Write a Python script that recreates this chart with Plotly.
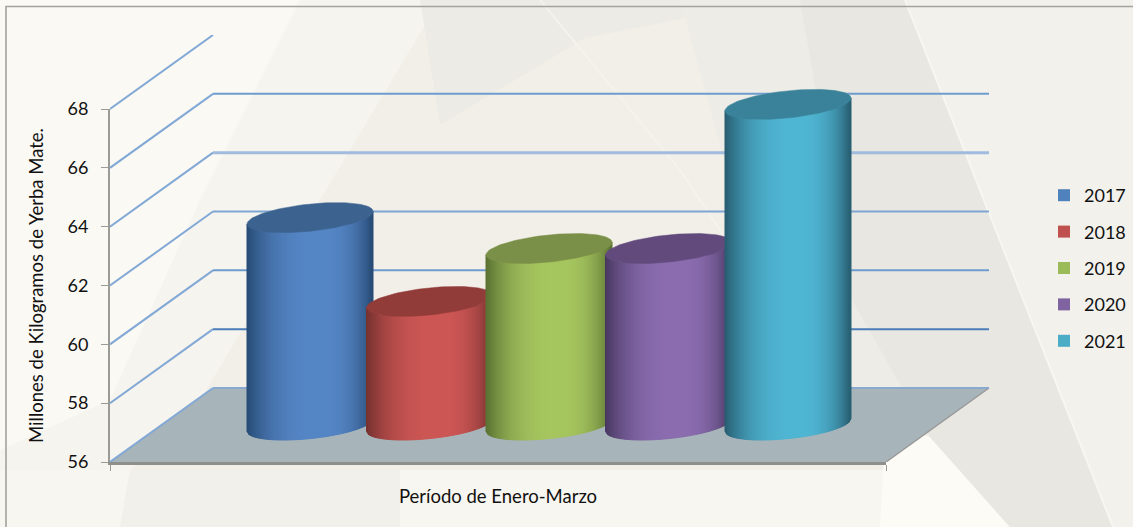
import numpy as np
import plotly.graph_objects as go

# ---- data ----
YEARS = ["2017", "2018", "2019", "2020", "2021"]
VALUES = [63.05, 60.2, 62.0, 62.0, 66.9]
Y_TICKS = [56, 58, 60, 62, 64, 66, 68]
BACK_GRID = [56, 58, 60, 62, 64, 66]
Y_TITLE = "Millones de Kilogramos de Yerba Mate."
X_TITLE = "Período de Enero-Marzo"

# ---- styles ----
LIGHT = ["#5686c6", "#cd5755", "#a6c660", "#8b6db0", "#50b6d3"]
DARK = ["#274b74", "#74302e", "#5a7032", "#473760", "#285c70"]
TOPC = ["#3c6390", "#923c3a", "#7a8f47", "#624b7c", "#3a8299"]
SWATCH = ["#4f81bd", "#c0504d", "#9bbb59", "#8064a2", "#4bacc6"]
GRID_COL = ["#8aa9cf", "#4a7db9", "#6f9ccf", "#7fa5d3", "#a0bbde", "#6f9ccf"]

# ---- geometry: px of the front plot box, then oblique depth ----
L, R, B, T = 110, 886, 462, 109
W, H = 1133, 527
PX_X = R - L
PX_Y = (B - T) / (Y_TICKS[-1] - Y_TICKS[0])
DX = 103 / PX_X           # depth shift, x axis units
DY = 74 / PX_Y            # depth shift, y axis units
OUT_R = R + 104           # outer box that also holds the back wall
OUT_T = T - 74
CENTER0 = (310 - L) / PX_X
STEP = 119.5 / PX_X
A = 63 / PX_X
EB = 15 / PX_Y
PHI = np.radians(25)


def hex2rgb(c):
    return np.array([int(c[i:i + 2], 16) for i in (1, 3, 5)], float)


def mix(c0, c1, s):
    r = hex2rgb(c0) * (1 - s) + hex2rgb(c1) * s
    return "rgb(%d,%d,%d)" % tuple(r)


def lower(u):
    return EB * np.sin(2 * np.pi - np.arccos(u) + PHI)


def px(x):
    return (x - L) / (OUT_R - L)


def py(y):
    return (B - y) / (B - OUT_T)


fig = go.Figure()
y0 = Y_TICKS[0]

# floor
fig.add_trace(go.Scatter(x=[0, 1, 1 + DX, DX, 0], y=[y0, y0, y0 + DY, y0 + DY, y0], mode="lines",
                         fill="toself", fillcolor="#a7b4b9", line=dict(width=0),
                         showlegend=False, hoverinfo="skip"))
fig.add_trace(go.Scatter(x=[1, 1 + DX], y=[y0, y0 + DY], mode="lines", line=dict(color="#9a9a9a", width=1.5),
                         showlegend=False, hoverinfo="skip"))
# walls
for v in Y_TICKS:
    fig.add_trace(go.Scatter(x=[0, DX], y=[v, v + DY], mode="lines", line=dict(color="#82a8d6", width=2),
                             showlegend=False, hoverinfo="skip"))
for v, c in zip(BACK_GRID, GRID_COL):
    fig.add_trace(go.Scatter(x=[DX, 1 + DX], y=[v + DY, v + DY], mode="lines",
                             line=dict(color=c, width=3 if v == 64 else 2),
                             showlegend=False, hoverinfo="skip"))

# value bars carry the legend; cylinders are drawn over them
for i, (yr, v) in enumerate(zip(YEARS, VALUES)):
    cx = CENTER0 + i * STEP
    fig.add_trace(go.Bar(x=[cx], y=[v - y0], base=[y0 + DY / 2], width=[1.5 * A], name=yr,
                         legendgroup=yr, marker=dict(color=SWATCH[i], line=dict(width=0)),
                         hoverinfo="skip"))

# cylinders
N = 63
edges = np.linspace(-1, 1, N + 1)
tt = np.linspace(0, 2 * np.pi, 121)
for i, v in enumerate(VALUES):
    cx = CENTER0 + i * STEP
    ybase = y0 + DY / 2
    ytop = v + DY / 2
    for k in range(N):
        u0, u1 = edges[k], edges[k + 1]
        t = (0.5 * (u0 + u1) + 1) / 2
        d = abs(t - 0.58) / (0.58 if t < 0.58 else 0.42)
        s = 1 - d ** 2.6
        col = mix(DARK[i], LIGHT[i], s)
        xs = [cx + A * u0, cx + A * u1, cx + A * u1, cx + A * u0, cx + A * u0]
        ys = [ytop + lower(u0), ytop + lower(u1), ybase + lower(u1), ybase + lower(u0), ytop + lower(u0)]
        fig.add_trace(go.Scatter(x=xs, y=ys, mode="lines", fill="toself", fillcolor=col,
                                 line=dict(color=col, width=1), showlegend=False, hoverinfo="skip"))
    fig.add_trace(go.Scatter(x=cx + A * np.cos(tt), y=ytop + EB * np.sin(tt + PHI), mode="lines",
                             fill="toself", fillcolor=TOPC[i], line=dict(color=TOPC[i], width=0.5),
                             showlegend=False, hoverinfo="skip"))

# trace that gives the visible front axes something to scale
fig.add_trace(go.Scatter(x=[0, 1], y=[Y_TICKS[0], Y_TICKS[-1]], xaxis="x2", yaxis="y2", mode="lines",
                         line=dict(width=0), opacity=0, showlegend=False, hoverinfo="skip"))

# page background: soft diagonal planes and the frame
shapes = []


def poly(points, color):
    d = "M " + " L ".join("%.4f,%.4f" % (px(a), py(b)) for a, b in points) + " Z"
    shapes.append(dict(type="path", xref="paper", yref="paper", path=d, fillcolor=color,
                       line=dict(width=0), layer="below"))


def stroke(points, color, width):
    d = "M " + " L ".join("%.4f,%.4f" % (px(a), py(b)) for a, b in points)
    shapes.append(dict(type="path", xref="paper", yref="paper", path=d,
                       line=dict(color=color, width=width), layer="below"))


poly([(0, 0), (1133, 0), (1133, 527), (0, 527)], "#f1efe8")
poly([(0, 0), (440, 0), (350, 150), (200, 400), (130, 470), (0, 527)], "#f6f4ee")
poly([(0, 0), (300, 0), (200, 200), (110, 400), (0, 450)], "#fbf9f4")
poly([(0, 470), (1010, 470), (1110, 527), (0, 527)], "#f8f6f0")
poly([(130, 470), (400, 470), (400, 527), (120, 527)], "#f2f0ea")
poly([(886, 420), (930, 437), (1010, 527), (880, 527)], "#fdfbf6")
poly([(420, 0), (780, 0), (585, 38), (440, 125)], "#edebe5")
poly([(680, 0), (905, 0), (1113, 527), (1010, 527), (930, 437), (852, 400), (760, 290)], "#eeece6")
poly([(800, 0), (905, 0), (1113, 527), (1010, 527), (930, 437), (852, 300)], "#e9e7e1")
poly([(905, 0), (1133, 0), (1133, 527), (1113, 527)], "#f3f1ec")
stroke([(540, 0), (680, 170), (760, 290)], "#f5f3ee", 2)
stroke([(905, 0), (1113, 527)], "#f8f6f1", 2)
stroke([(6, 527), (6, 6.5), (1133, 6.5)], "#a3a39d", 1.6)

fig.update_layout(
    width=W, height=H, autosize=False,
    margin=dict(l=L, r=W - OUT_R, t=OUT_T, b=H - B, autoexpand=False),
    paper_bgcolor="#f1efe8", plot_bgcolor="rgba(0,0,0,0)",
    shapes=shapes, barmode="overlay",
    font=dict(family="Lato", color="#111111"),
    legend=dict(x=px(1044), xanchor="left", y=py(177), yanchor="top", font=dict(size=18, family="Lato"),
                tracegroupgap=10, bgcolor="rgba(0,0,0,0)", traceorder="grouped"),
    xaxis=dict(range=[0, 1 + DX * (OUT_R - R) / 103], visible=False, fixedrange=True),
    yaxis=dict(range=[Y_TICKS[0], Y_TICKS[-1] + (T - OUT_T) / PX_Y], visible=False, fixedrange=True),
    xaxis2=dict(domain=[0, (R - L) / (OUT_R - L)], anchor="y2", range=[0, 1], tickmode="array", tickvals=[0, 1],
                ticktext=["", ""], ticks="outside", ticklen=6, tickcolor="#9a9a96", showline=True, linecolor="#8f8f8c",
                linewidth=2.5, showgrid=False, zeroline=False,
                title=dict(text=X_TITLE, font=dict(size=18.5, family="Lato"), standoff=18)),
    yaxis2=dict(domain=[0, (B - T) / (B - OUT_T)], anchor="x2", range=[Y_TICKS[0], Y_TICKS[-1]], tickmode="array",
                tickvals=Y_TICKS, ticks="outside", ticklen=7, tickcolor="#9a9a96", showline=True, linecolor="#9a9a96",
                linewidth=2, showgrid=False, zeroline=False,
                tickfont=dict(size=18, family="Lato", color="#111111"), ticklabelstandoff=9,
                title=dict(text=Y_TITLE, font=dict(size=18.5, family="Lato"), standoff=19)),
)
fig.write_html("out.html", config={"displayModeBar": False},
               post_script="document.body.style.margin='0';document.body.style.overflow='hidden';")
